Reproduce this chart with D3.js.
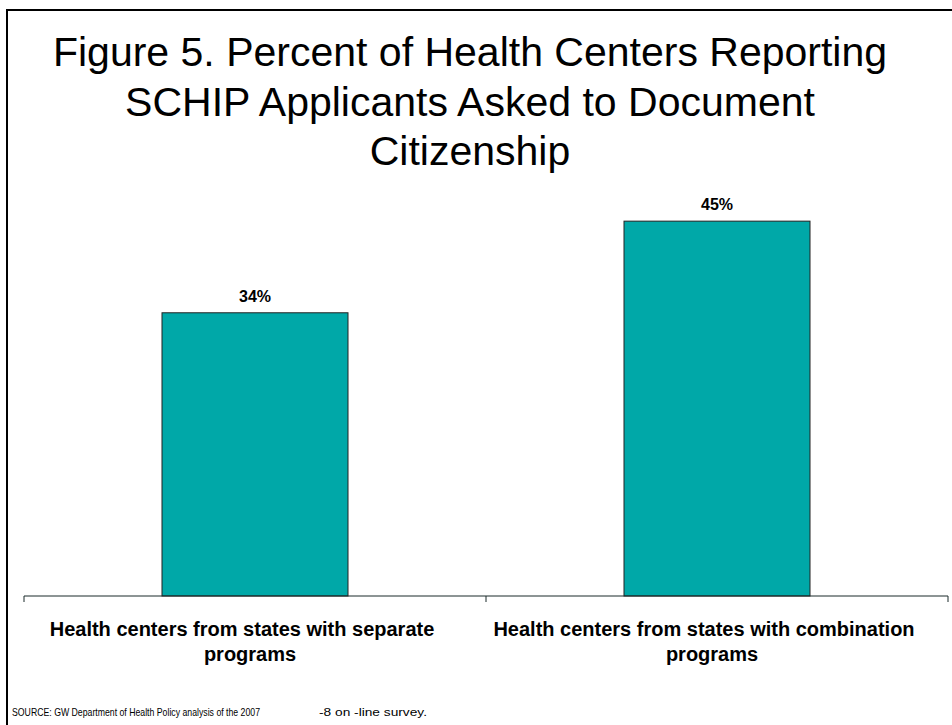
<!DOCTYPE html>
<html><head><meta charset="utf-8">
<script src="https://cdn.jsdelivr.net/npm/d3@7"></script>
<style>body{margin:0;background:#fff}svg{display:block;font-family:"Liberation Sans",Arial,sans-serif}</style>
</head><body>
<script>
const titleLines = ["Figure 5. Percent of Health Centers Reporting", "SCHIP Applicants Asked to Document", "Citizenship"];
const categories = [["Health centers from states with separate", "programs"], ["Health centers from states with combination", "programs"]];
const values = [34, 45];
const yDomain = [0, 50];
const sourceParts = ["SOURCE: GW Department of Health Policy analysis of the 2007", "-8 on -line survey."];

const W = 952, H = 725;
const svg = d3.select("body").append("svg").attr("width", W).attr("height", H);
svg.append("rect").attr("width", W).attr("height", H).attr("fill", "#fff");
svg.append("rect").attr("x", 7).attr("y", 10).attr("width", W).attr("height", H).attr("fill", "none").attr("stroke", "#000").attr("stroke-width", 2);

const m = {left: 24, right: 948, top: 179.5, bottom: 596};
const x = d3.scaleBand().domain(d3.range(values.length)).range([m.left, m.right]).paddingInner(0).paddingOuter(0);
const y = d3.scaleLinear().domain(yDomain).range([m.bottom, m.top]);
const bw = 186;

svg.append("g").selectAll("text").data(titleLines).join("text")
  .attr("x", 470).attr("y", (d, i) => 66 + i * 49.5).attr("text-anchor", "middle")
  .attr("font-size", 41).attr("fill", "#000").text(d => d);

const bars = svg.append("g");
bars.selectAll("rect").data(values).join("rect")
  .attr("x", (d, i) => x(i) + (x.bandwidth() - bw) / 2).attr("width", bw)
  .attr("y", d => y(d)).attr("height", d => y(0) - y(d))
  .attr("fill", "#00A8A8").attr("stroke", "#222").attr("stroke-width", 1);

bars.selectAll("text").data(values).join("text")
  .attr("x", (d, i) => x(i) + x.bandwidth() / 2).attr("y", d => y(d) - 11)
  .attr("text-anchor", "middle").attr("font-size", 16).attr("font-weight", "bold").text(d => d + "%");

const axis = d3.axisBottom(x).tickSize(0).tickFormat("");
const ag = svg.append("g").attr("transform", `translate(0,${m.bottom})`).call(axis);
ag.select(".domain").attr("stroke", "#1a2a2a").attr("d", `M${m.left},0H${m.right}`);
const tickXs = [m.left].concat(d3.range(values.length).map(i => x(i) + x.bandwidth()));
svg.append("g").selectAll("line").data(tickXs).join("line")
  .attr("x1", d => d).attr("x2", d => d).attr("y1", m.bottom).attr("y2", m.bottom + 6).attr("stroke", "#1a2a2a");

const lineShift = [-13, -5];
categories.forEach((lines, i) => {
  svg.append("text").attr("text-anchor", "middle")
    .attr("font-size", 20).attr("font-weight", "bold")
    .selectAll("tspan").data(lines).join("tspan")
    .attr("x", (d, j) => x(i) + x.bandwidth() / 2 + lineShift[j]).attr("y", (d, j) => 636 + j * 25).text(d => d);
});

svg.append("text").attr("x", 12).attr("y", 716).attr("font-size", 10.5).attr("textLength", 248).attr("lengthAdjust", "spacingAndGlyphs").text(sourceParts[0]);
svg.append("text").attr("x", 319).attr("y", 716).attr("font-size", 10.5).attr("textLength", 108).attr("lengthAdjust", "spacingAndGlyphs").text(sourceParts[1]);
</script>
</body></html>
